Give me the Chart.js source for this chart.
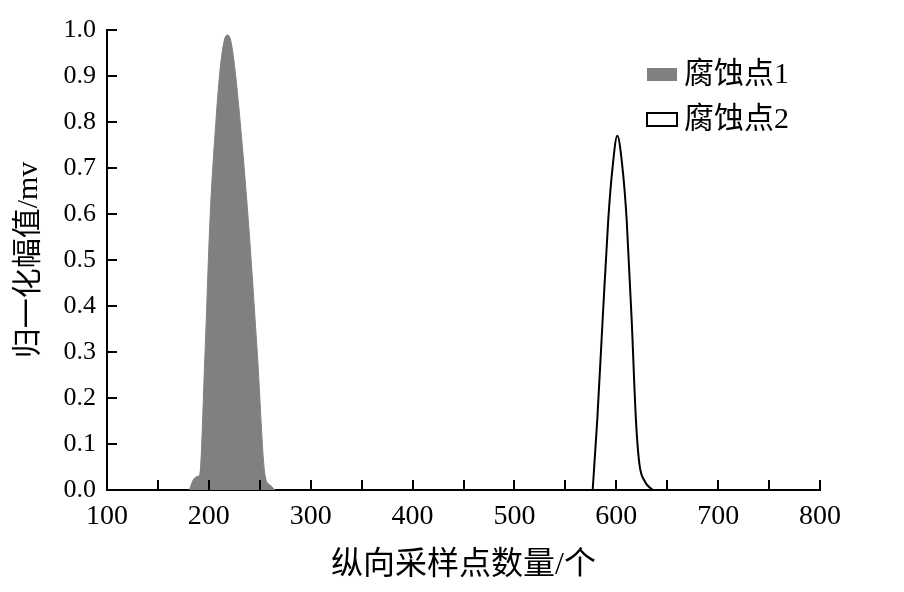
<!DOCTYPE html>
<html>
<head>
<meta charset="utf-8">
<script src="https://cdn.jsdelivr.net/npm/chart.js@4.4.1/dist/chart.umd.min.js"></script>
<style>
    html, body { margin: 0; padding: 0; background: #fff; }
    #wrap { width: 904px; height: 592px; position: relative; }
</style>
</head>
<body>
<div id="wrap"><canvas id="chart"></canvas></div>
<script>
// data
const seriesNames = ['腐蚀点1', '腐蚀点2'];
const xTitle = '纵向采样点数量/个';
const yTitle = '归一化幅值/mv';

const peak1X = [180.8, 184.7, 189.6, 191.0, 196.2, 201.1, 207.0, 211.0, 215.2, 218.1, 221.4, 225.7, 230.6, 238.7, 247.6, 255.1, 260.0, 264.9];
const peak1Y = [0, 0.022, 0.030, 0.033, 0.297, 0.587, 0.804, 0.913, 0.978, 0.989, 0.978, 0.913, 0.804, 0.587, 0.297, 0.033, 0.011, 0];

const peak2X = [576.8, 581.3, 586.6, 592.1, 596.1, 601.0, 606.3, 610.2, 615.1, 619.3, 622.6, 628.2, 635.7];
const peak2Y = [0, 0.152, 0.370, 0.587, 0.696, 0.770, 0.696, 0.587, 0.370, 0.152, 0.058, 0.018, 0];

const xMin = 100, xMax = 800, xStep = 50, xLabelStep = 100;
const yMin = 0, yMax = 1, yStep = 0.1;

const toPoints = (xs, ys) => xs.map((x, i) => ({ x: x, y: ys[i] }));

const FONT = "'Liberation Serif', 'Noto Sans CJK SC', serif";

// ticks drawn inward, like the original plot
const inwardTicks = {
    id: 'inwardTicks',
    afterDraw(chart) {
        const ctx = chart.ctx;
        const { x, y } = chart.scales;
        const len = 10;
        ctx.save();
        ctx.strokeStyle = '#000';
        ctx.lineWidth = 2;
        ctx.beginPath();
        x.ticks.forEach(t => {
            const px = Math.round(x.getPixelForValue(t.value));
            ctx.moveTo(px, y.bottom);
            ctx.lineTo(px, y.bottom - len);
        });
        y.ticks.forEach(t => {
            const py = Math.round(y.getPixelForValue(t.value));
            ctx.moveTo(x.left, py);
            ctx.lineTo(x.left + len, py);
        });
        ctx.stroke();
        ctx.restore();
    }
};

// legend in the upper right of the plot area
const boxLegend = {
    id: 'boxLegend',
    afterDraw(chart) {
        const ctx = chart.ctx;
        const rows = [75, 120];
        ctx.save();
        ctx.font = '30px ' + FONT;
        ctx.textBaseline = 'middle';
        chart.data.datasets.forEach((ds, i) => {
            const cy = rows[i];
            ctx.fillStyle = ds.fill ? ds.backgroundColor : '#fff';
            ctx.fillRect(647, cy - 7, 30, 13);
            if (!ds.fill) {
                ctx.strokeStyle = '#000';
                ctx.lineWidth = 2;
                ctx.strokeRect(647, cy - 7, 30, 13);
            }
            ctx.fillStyle = '#000';
            ctx.fillText(ds.label, 684, cy);
        });
        ctx.restore();
    }
};

new Chart(document.getElementById('chart'), {
    type: 'line',
    data: {
        datasets: [
            {
                label: seriesNames[0],
                data: toPoints(peak1X, peak1Y),
                borderColor: '#808080',
                backgroundColor: '#808080',
                borderWidth: 1,
                fill: 'origin',
                pointRadius: 0,
                cubicInterpolationMode: 'monotone'
            },
            {
                label: seriesNames[1],
                data: toPoints(peak2X, peak2Y),
                borderColor: '#000',
                backgroundColor: '#fff',
                borderWidth: 2,
                fill: false,
                pointRadius: 0,
                cubicInterpolationMode: 'monotone'
            }
        ]
    },
    options: {
        responsive: true,
        maintainAspectRatio: false,
        animation: false,
        layout: { padding: { top: 30, right: 84, left: 0, bottom: 0 } },
        plugins: {
            legend: { display: false },
            tooltip: { enabled: false }
        },
        scales: {
            x: {
                type: 'linear',
                min: xMin,
                max: xMax,
                afterFit: s => { s.height = 102; },
                border: { color: '#000', width: 2 },
                grid: { display: false, drawTicks: false },
                ticks: {
                    stepSize: xStep,
                    autoSkip: false,
                    maxRotation: 0,
                    padding: 10,
                    color: '#000',
                    font: { family: FONT, size: 28 },
                    callback: v => (v % xLabelStep === 0 ? String(v) : '')
                },
                title: {
                    display: true,
                    text: xTitle,
                    color: '#000',
                    font: { family: FONT, size: 32 },
                    padding: { top: 0, bottom: 7 }
                }
            },
            y: {
                min: yMin,
                max: yMax,
                afterFit: s => { s.width = 107; },
                border: { color: '#000', width: 2 },
                grid: { display: false, drawTicks: false },
                ticks: {
                    stepSize: yStep,
                    padding: 11,
                    color: '#000',
                    font: { family: FONT, size: 26 },
                    callback: v => v.toFixed(1)
                },
                title: {
                    display: true,
                    text: yTitle,
                    color: '#000',
                    font: { family: FONT, size: 30 },
                    padding: { top: 11, bottom: 0 }
                }
            }
        }
    },
    plugins: [inwardTicks, boxLegend]
});
</script>
</body>
</html>
